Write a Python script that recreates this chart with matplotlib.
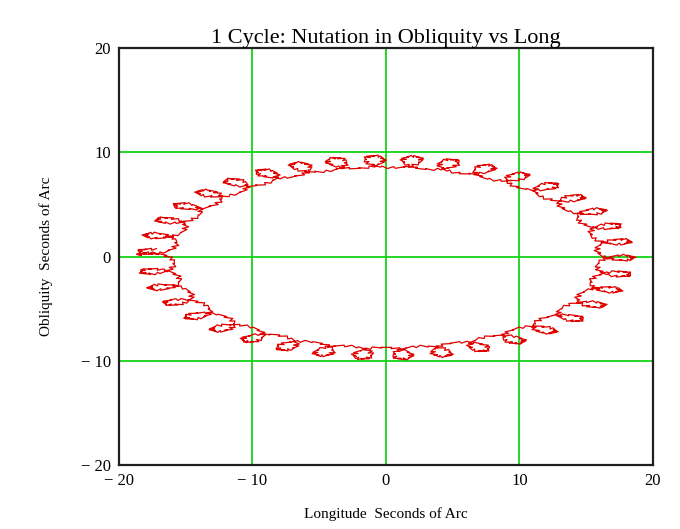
# 1 Cycle: nutation in obliquity vs longitude
import numpy as np
import matplotlib.pyplot as plt

plt.rcParams['font.family'] = ['Liberation Serif', 'DejaVu Serif']

# nutation terms (arcsec), periods in days, phase at start (deg)
term_names = ['Omega', '2L', '2Lmoon', '2Omega']
amp_long = [-17.20, -1.32, -0.23, 0.21]
amp_obl = [9.20, 0.57, 0.10, -0.09]
period_days = [-6798.4, 182.62, 13.66, -3399.2]
phase_deg = [90.0, 0.0, 0.0, 180.0]

cycle_days = 6798.4
step_days = 6.0

xticks = [-20, -10, 0, 10, 20]
yticks = [-20, -10, 0, 10, 20]
tick_text = ['\u2212 20', '\u2212 10', '0', '10', '20']

t = np.arange(0, cycle_days + step_days, step_days)
dpsi = np.zeros_like(t)
deps = np.zeros_like(t)
for a_l, a_o, p, ph in zip(amp_long, amp_obl, period_days, phase_deg):
    arg = np.radians(ph) + 2 * np.pi * t / p
    dpsi += a_l * np.sin(arg)
    deps += a_o * np.cos(arg)

fig = plt.figure(figsize=(6.8, 5.29), dpi=100)
ax = fig.add_axes([0.175, 0.121, 0.785, 0.788])

ax.plot(dpsi, deps, color='#e00000', lw=0.9)

ax.set_xlim(-20, 20)
ax.set_ylim(-20, 20)
ax.set_xticks(xticks)
ax.set_yticks(yticks)
ax.set_xticklabels(tick_text)
ax.set_yticklabels(tick_text)
ax.tick_params(length=0, labelsize=12, pad=6)
ax.grid(True, color='#00d000', lw=1.2)
ax.set_axisbelow(True)
for s in ax.spines.values():
    s.set_color('#202020')
    s.set_linewidth(1.6)

ax.set_title('1 Cycle: Nutation in Obliquity vs Long', fontsize=16, pad=1)
ax.set_xlabel('Longitude  Seconds of Arc', fontsize=11, labelpad=13)
ax.set_ylabel('Obliquity  Seconds of Arc', fontsize=11, labelpad=20)

plt.savefig('out.png', dpi=100)
